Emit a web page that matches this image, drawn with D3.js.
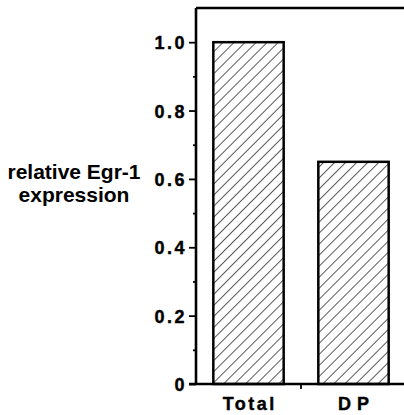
<!DOCTYPE html>
<html>
<head>
<meta charset="utf-8">
<script src="https://cdn.jsdelivr.net/npm/d3@7"></script>
<style>
  body { margin: 0; background: #fff; }
  svg { display: block; }
  text { font-family: "Liberation Sans", Arial, sans-serif; font-weight: bold; fill: #000; }
</style>
</head>
<body>
<svg id="chart" width="404" height="415"></svg>
<script>
const categories = ["Total", "DP"];
const values = [1.0, 0.65];
const majorTicks = [0, 0.2, 0.4, 0.6, 0.8, 1.0];
const tickLabels = ["0", "0.2", "0.4", "0.6", "0.8", "1.0"];
const minorTicks = [0.1, 0.3, 0.5, 0.7, 0.9];
const titleLines = ["relative Egr-1", "expression"];

const svgWidth = 404;
const axisX = 196;
const baseY = 384;
const topY = 8;

const svg = d3.select("#chart");

const yScale = d3.scaleLinear().domain([0, 1.1]).range([baseY, topY]);
const xScale = d3
  .scaleBand()
  .domain(categories)
  .range([axisX, 406])
  .paddingInner(0.33)
  .paddingOuter(0.165);

// hatch pattern for the bars
const defs = svg.append("defs");
defs
  .append("pattern")
  .attr("id", "hatch")
  .attr("patternUnits", "userSpaceOnUse")
  .attr("width", 7.8)
  .attr("height", 7.8)
  .attr("patternTransform", "rotate(45)")
  .append("line")
  .attr("x1", 0)
  .attr("y1", 0)
  .attr("x2", 0)
  .attr("y2", 7.8)
  .attr("stroke", "#000")
  .attr("stroke-width", 1.3);

svg
  .selectAll(".bar")
  .data(values)
  .join("rect")
  .attr("class", "bar")
  .attr("x", (d, i) => xScale(categories[i]))
  .attr("y", (d) => yScale(d))
  .attr("width", xScale.bandwidth())
  .attr("height", (d) => yScale(0) - yScale(d))
  .attr("fill", "url(#hatch)")
  .attr("stroke", "#000")
  .attr("stroke-width", 2.5);

// y axis with major and minor ticks
const yAxis = d3
  .axisLeft(yScale)
  .tickValues(majorTicks)
  .tickSize(7)
  .tickPadding(2)
  .tickFormat((d, i) => tickLabels[i]);
const yG = svg.append("g").attr("transform", `translate(${axisX},0)`).call(yAxis);
yG.attr("font-size", null).attr("font-family", null);
yG.select(".domain").attr("stroke-width", 2.6).attr("d", `M0,${topY}V${baseY}`);
yG.selectAll(".tick line").attr("stroke-width", 1.8);
yG.selectAll(".tick text")
  .style("font-size", "18px")
  .style("letter-spacing", "2.5px")
  .style("stroke", "#000")
  .style("stroke-width", "0.4px")
  .attr("dy", "0.36em");

const yMinor = d3.axisLeft(yScale).tickValues(minorTicks).tickSize(3).tickFormat("");
const yMinorG = svg.append("g").attr("transform", `translate(${axisX},0)`).call(yMinor);
yMinorG.select(".domain").remove();
yMinorG.selectAll(".tick line").attr("stroke-width", 1.8);

// x axis: baseline with a tick between the two bars
const xAxis = d3.axisBottom(xScale).tickSize(0).tickPadding(13);
const xG = svg.append("g").attr("transform", `translate(0,${baseY})`).call(xAxis);
xG.attr("font-size", null).attr("font-family", null);
xG.select(".domain").attr("stroke-width", 2.6).attr("d", `M${axisX - 7},0H${svgWidth}`);
xG.selectAll(".tick text")
  .style("font-size", "18px")
  .style("letter-spacing", (d) => (d === "DP" ? "6px" : "2.5px"))
  .style("stroke", "#000")
  .style("stroke-width", "0.4px")
  .attr("dx", (d) => (d === "DP" ? "3px" : "1.25px"));
const midTick = (xScale("Total") + xScale.bandwidth() + xScale("DP")) / 2;
xG.append("line")
  .attr("x1", midTick)
  .attr("x2", midTick)
  .attr("y1", 0)
  .attr("y2", 5)
  .attr("stroke", "#000")
  .attr("stroke-width", 1.8);

// frame top line
svg
  .append("line")
  .attr("x1", axisX)
  .attr("x2", svgWidth)
  .attr("y1", topY)
  .attr("y2", topY)
  .attr("stroke", "#000")
  .attr("stroke-width", 2.6);

// axis title
svg
  .append("text")
  .attr("text-anchor", "middle")
  .style("font-size", "21px")
  .selectAll("tspan")
  .data(titleLines)
  .join("tspan")
  .attr("x", 74)
  .attr("y", (d, i) => 179 + i * 23)
  .text((d) => d);
</script>
</body>
</html>
